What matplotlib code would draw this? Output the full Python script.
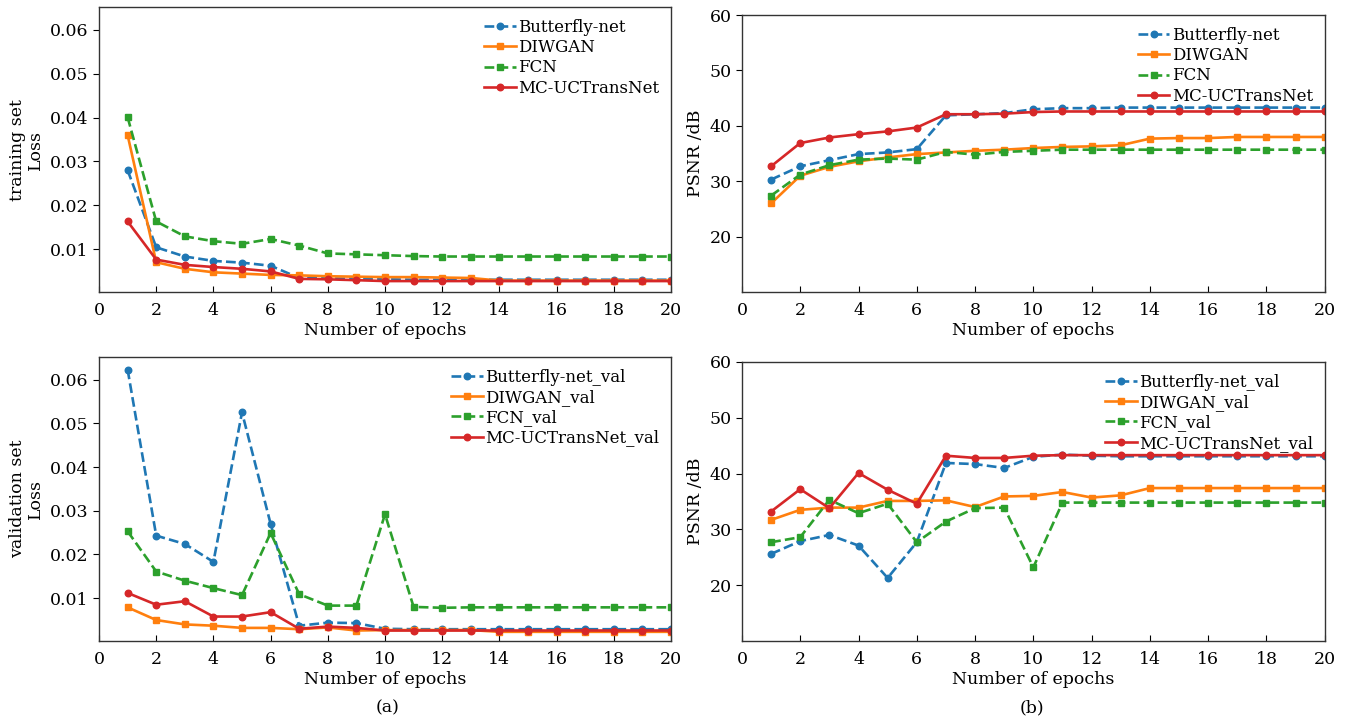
import numpy as np
import matplotlib.pyplot as plt

# =========================
# Data
# =========================
epochs = np.arange(1, 21)

# training loss
loss_butterfly = [0.0280, 0.0104, 0.0083, 0.0073, 0.0069, 0.0062, 0.0034, 0.0033, 0.0032, 0.0031,
                  0.0030, 0.0030, 0.0030, 0.0030, 0.0030, 0.0030, 0.0030, 0.0030, 0.0030, 0.0030]
loss_diwgan = [0.0360, 0.0070, 0.0055, 0.0047, 0.0044, 0.0041, 0.0040, 0.0038, 0.0037, 0.0036,
               0.0036, 0.0035, 0.0034, 0.0028, 0.0028, 0.0028, 0.0028, 0.0028, 0.0028, 0.0028]
loss_fcn = [0.0401, 0.0163, 0.0129, 0.0118, 0.0112, 0.0123, 0.0108, 0.0090, 0.0088, 0.0086,
            0.0084, 0.0083, 0.0083, 0.0083, 0.0083, 0.0083, 0.0083, 0.0083, 0.0083, 0.0083]
loss_mc = [0.0163, 0.0076, 0.0064, 0.0059, 0.0055, 0.0049, 0.0032, 0.0031, 0.0029, 0.0027,
           0.0027, 0.0027, 0.0027, 0.0027, 0.0027, 0.0027, 0.0027, 0.0027, 0.0027, 0.0027]

# training PSNR
psnr_butterfly = [30.3, 32.7, 33.8, 34.9, 35.2, 35.8, 41.9, 42.1, 42.3, 43.0,
                  43.2, 43.2, 43.3, 43.3, 43.3, 43.3, 43.3, 43.3, 43.3, 43.3]
psnr_diwgan = [26.0, 31.0, 32.6, 33.6, 34.3, 34.9, 35.2, 35.5, 35.7, 36.0,
               36.2, 36.3, 36.5, 37.7, 37.8, 37.8, 38.0, 38.0, 38.0, 38.0]
psnr_fcn = [27.4, 31.2, 32.9, 33.9, 34.1, 33.9, 35.3, 34.8, 35.3, 35.5,
            35.7, 35.7, 35.7, 35.7, 35.7, 35.7, 35.7, 35.7, 35.7, 35.7]
psnr_mc = [32.7, 36.9, 37.9, 38.5, 39.0, 39.7, 42.1, 42.1, 42.2, 42.5,
           42.6, 42.6, 42.6, 42.6, 42.6, 42.6, 42.6, 42.6, 42.6, 42.6]

# validation loss
vloss_butterfly = [0.0623, 0.0243, 0.0224, 0.0183, 0.0525, 0.0270, 0.0037, 0.0044, 0.0043, 0.0030,
                   0.0029, 0.0029, 0.0029, 0.0029, 0.0029, 0.0029, 0.0029, 0.0029, 0.0029, 0.0029]
vloss_diwgan = [0.0079, 0.0050, 0.0040, 0.0037, 0.0032, 0.0032, 0.0029, 0.0033, 0.0026, 0.0027,
                0.0027, 0.0027, 0.0027, 0.0023, 0.0023, 0.0023, 0.0023, 0.0023, 0.0023, 0.0023]
vloss_fcn = [0.0253, 0.0161, 0.0140, 0.0123, 0.0107, 0.0249, 0.0109, 0.0083, 0.0083, 0.0292,
             0.0080, 0.0078, 0.0079, 0.0079, 0.0079, 0.0079, 0.0079, 0.0079, 0.0079, 0.0079]
vloss_mc = [0.0112, 0.0085, 0.0093, 0.0058, 0.0058, 0.0068, 0.0030, 0.0035, 0.0032, 0.0026,
            0.0026, 0.0026, 0.0026, 0.0026, 0.0026, 0.0026, 0.0026, 0.0026, 0.0026, 0.0026]

# validation PSNR
vpsnr_butterfly = [25.6, 27.9, 29.0, 27.1, 21.3, 27.7, 41.9, 41.7, 41.0, 43.0,
                   43.4, 43.2, 43.1, 43.1, 43.1, 43.1, 43.1, 43.1, 43.1, 43.1]
vpsnr_diwgan = [31.7, 33.5, 33.9, 33.9, 35.1, 35.1, 35.2, 34.0, 35.9, 36.0,
                36.7, 35.7, 36.1, 37.4, 37.4, 37.4, 37.4, 37.4, 37.4, 37.4]
vpsnr_fcn = [27.7, 28.6, 35.3, 32.9, 34.6, 27.7, 31.4, 33.8, 33.9, 23.2,
             34.8, 34.8, 34.8, 34.8, 34.8, 34.8, 34.8, 34.8, 34.8, 34.8]
vpsnr_mc = [33.2, 37.2, 33.8, 40.1, 37.1, 34.6, 43.2, 42.8, 42.8, 43.2,
            43.3, 43.3, 43.3, 43.3, 43.3, 43.3, 43.3, 43.3, 43.3, 43.3]

names = ["Butterfly-net", "DIWGAN", "FCN", "MC-UCTransNet"]

# =========================
# Style
# =========================
plt.rcParams['font.family'] = ['DejaVu Serif']
plt.rcParams['font.size'] = 12.5

styles = [
    dict(color='#1f77b4', linestyle='--', marker='o'),
    dict(color='#ff7f0e', linestyle='-', marker='s'),
    dict(color='#2ca02c', linestyle='--', marker='s'),
    dict(color='#d62728', linestyle='-', marker='o'),
]


def draw(ax, series, suffix, ylim, yticks, yticklabels, ylabel):
    for name, vals, st in zip(names, series, styles):
        ax.plot(epochs, vals, label=name + suffix, linewidth=1.9,
                markersize=4.7, **st)
    ax.set_xlim(0, 20)
    ax.set_ylim(*ylim)
    ax.set_xticks(range(0, 21, 2))
    ax.set_yticks(yticks)
    ax.set_yticklabels(yticklabels)
    ax.tick_params(axis='x', direction='in', length=4, pad=7)
    ax.tick_params(axis='y', direction='out', length=4)
    for sp in ax.spines.values():
        sp.set_linewidth(1.0)
        sp.set_color('#333333')
    ax.set_xlabel("Number of epochs", labelpad=2)
    ax.set_ylabel(ylabel, linespacing=1.1)
    ax.legend(loc='upper right', frameon=False, handlelength=1.9, fontsize=12,
              handletextpad=0.15, labelspacing=0.2, borderaxespad=0.3)


fig = plt.figure(figsize=(13.49, 7.23), dpi=100)

ax1 = fig.add_axes([0.0734, 0.5961, 0.424, 0.394])
ax2 = fig.add_axes([0.550, 0.5961, 0.432, 0.383])
ax3 = fig.add_axes([0.0734, 0.1134, 0.424, 0.393])
ax4 = fig.add_axes([0.550, 0.1134, 0.432, 0.386])

loss_ticks = [0.01, 0.02, 0.03, 0.04, 0.05, 0.06]
loss_labels = ["0.01", "0.02", "0.03", "0.04", "0.05", "0.06"]
psnr_ticks = [20, 30, 40, 50, 60]

draw(ax1, [loss_butterfly, loss_diwgan, loss_fcn, loss_mc], "",
     (0.0002, 0.0652), loss_ticks, loss_labels, "training set\nLoss")
draw(ax2, [psnr_butterfly, psnr_diwgan, psnr_fcn, psnr_mc], "",
     (10, 60), psnr_ticks, [str(v) for v in psnr_ticks], "PSNR /dB")
draw(ax3, [vloss_butterfly, vloss_diwgan, vloss_fcn, vloss_mc], "_val",
     (0.0002, 0.0652), loss_ticks, loss_labels, "validation set\nLoss")
draw(ax4, [vpsnr_butterfly, vpsnr_diwgan, vpsnr_fcn, vpsnr_mc], "_val",
     (10, 60), psnr_ticks, [str(v) for v in psnr_ticks], "PSNR /dB")

fig.text(0.2875, 0.015, "(a)", ha='center', fontsize=12.5)
fig.text(0.765, 0.015, "(b)", ha='center', fontsize=12.5)

fig.savefig("out.png", dpi=100)
